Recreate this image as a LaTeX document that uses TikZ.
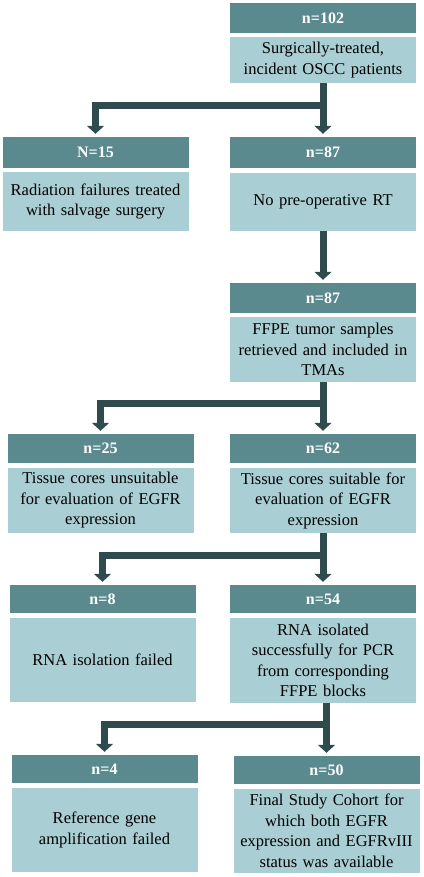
\documentclass[tikz,border=0pt]{standalone}
\usepackage{fontspec}
\setmainfont{Liberation Serif}
\usetikzlibrary{arrows.meta}
\definecolor{hdrteal}{HTML}{5A8A8E}
\definecolor{boxteal}{HTML}{A9CED3}
\definecolor{arrowdark}{HTML}{2F4B4D}
\begin{document}
\begin{tikzpicture}[x=1pt,y=-1pt,
  hdr/.style={fill=hdrteal,text=white,font=\fontsize{16}{18}\selectfont\bfseries,minimum width=186pt,inner sep=0pt},
  info/.style={fill=boxteal,text=black,font=\fontsize{16.5}{20.5}\selectfont,minimum width=186pt,text width=184pt,align=center,inner sep=0pt},
  link/.style={draw=arrowdark,line width=7pt,-{Triangle[width=17pt,length=8pt]},shorten >=3pt}]
\useasboundingbox (0,0) rectangle (423,877);
\node[hdr,minimum height=30pt] (h1) at (323,18) {n=102};
\node[info,minimum height=46pt] (b1) at (323,60) {Surgically-treated,\\incident OSCC patients};
\node[hdr,minimum height=31pt] (h2a) at (95.5,152.5) {N=15};
\node[info,minimum height=59pt] (b2a) at (95.5,201.5) {Radiation failures treated\\with salvage surgery};
\node[hdr,minimum height=31pt] (h2b) at (323,152.5) {n=87};
\node[info,minimum height=58pt] (b2b) at (323,202) {No pre-operative RT};
\node[hdr,minimum height=30pt] (h3) at (323,298) {n=87};
\node[info,minimum height=65pt] (b3) at (323,349.5) {FFPE tumor samples\\retrieved and included in\\TMAs};
\node[hdr,minimum height=29pt] (h4a) at (100.5,448.5) {n=25};
\node[info,minimum height=65pt] (b4a) at (100.5,500.5) {Tissue cores unsuitable\\for evaluation of EGFR\\expression};
\node[hdr,minimum height=29pt] (h4b) at (323,448.5) {n=62};
\node[info,minimum height=65pt] (b4b) at (323,500.5) {Tissue cores suitable for\\evaluation of EGFR\\expression};
\node[hdr,minimum height=28pt] (h5a) at (102.5,599) {n=8};
\node[info,minimum height=84pt] (b5a) at (102.5,660) {RNA isolation failed};
\node[hdr,minimum height=28pt] (h5b) at (323,599) {n=54};
\node[info,minimum height=85pt] (b5b) at (323,660.5) {RNA isolated\\successfully for PCR\\from corresponding\\FFPE blocks};
\node[hdr,minimum height=28pt] (h6a) at (104.5,769) {n=4};
\node[info,minimum height=84pt] (b6a) at (104.5,830) {Reference gene\\amplification failed};
\node[hdr,minimum height=28pt] (h6b) at (326.5,770) {n=50};
\node[info,minimum height=84pt] (b6b) at (326.5,831) {Final Study Cohort for\\which both EGFR\\expression and EGFRvIII\\status was available};
\coordinate (s1) at (323,106);
\coordinate (s2) at (323,403);
\coordinate (s3) at (323,555);
\coordinate (s4) at (326.5,724);
\draw[link] (s1) -| (h2a.north);
\draw[link] (b1.south) -- (h2b.north);
\draw[link] (b2b.south) -- (h3.north);
\draw[link] (s2) -| (h4a.north);
\draw[link] (b3.south) -- (h4b.north);
\draw[link] (s3) -| (h5a.north);
\draw[link] (b4b.south) -- (h5b.north);
\draw[link] (s4) -| (h6a.north);
\draw[link] (h6b.north |- b5b.south) -- (h6b.north);
\end{tikzpicture}
\end{document}
